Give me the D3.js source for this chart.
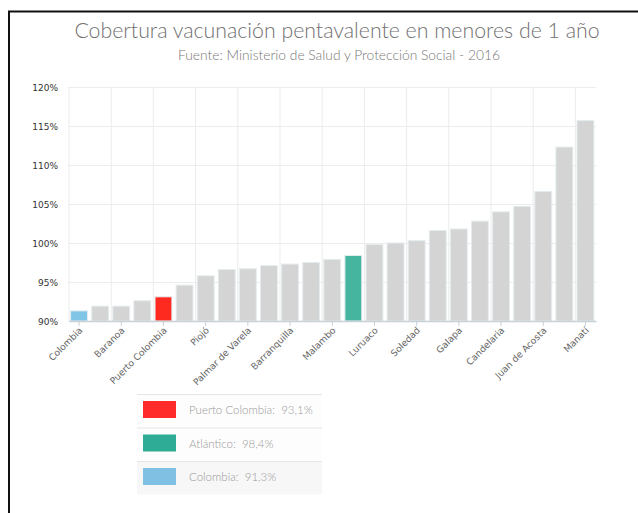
<!DOCTYPE html>
<html>
<head>
<meta charset="utf-8">
<script src="https://cdn.jsdelivr.net/npm/d3@7"></script>
<style>
  body { margin: 0; background: #fff; }
  svg { display: block; }
</style>
</head>
<body>
<script>
// data
const names = ["Colombia", "Campo de la Cruz", "Baranoa", "Polonuevo", "Puerto Colombia", "Ponedera",
  "Piojó", "Repelón", "Palmar de Varela", "Sabanagrande", "Barranquilla", "Sabanalarga", "Malambo",
  "Atlántico", "Luruaco", "Santa Lucía", "Soledad", "Santo Tomás", "Galapa", "Suan", "Candelaria",
  "Tubará", "Juan de Acosta", "Usiacurí", "Manatí"];
const values = [91.3, 91.9, 91.9, 92.6, 93.1, 94.6, 95.8, 96.6, 96.7, 97.1, 97.3, 97.5, 97.9,
  98.4, 99.8, 100.0, 100.3, 101.6, 101.8, 102.8, 104.0, 104.7, 106.6, 112.3, 115.7];
const yTicks = [90, 95, 100, 105, 110, 115, 120];
const highlight = { "Colombia": "#80c4e6", "Puerto Colombia": "#ff2a1f", "Atlántico": "#46b5a0" };
const legendItems = [
  { label: "Puerto Colombia:  93,1%", color: "#ff2b2b" },
  { label: "Atlántico:  98,4%", color: "#2fac95" },
  { label: "Colombia:  91,3%", color: "#80c0e2" }
];

const W = 638, H = 513;
const margin = { top: 87, right: 42, bottom: 192, left: 68.5 };

const svg = d3.select("body").append("svg")
  .attr("width", W)
  .attr("height", H);

// frame (top and left lines only)
svg.append("path")
  .attr("d", `M9,${H} L9,11.5 L${W},11.5`)
  .attr("fill", "none")
  .attr("stroke", "#111")
  .attr("stroke-width", 2);

// titles
svg.append("text")
  .attr("x", 337).attr("y", 38)
  .attr("text-anchor", "middle")
  .attr("font-family", "Lato")
  .attr("font-weight", 300)
  .attr("font-size", 21.3)
  .attr("fill", "#707070")
  .text("Cobertura vacunación pentavalente en menores de 1 año");

svg.append("text")
  .attr("x", 339).attr("y", 60)
  .attr("text-anchor", "middle")
  .attr("font-family", "Lato")
  .attr("font-weight", 300)
  .attr("font-size", 13.8)
  .attr("fill", "#777")
  .text("Fuente: Ministerio de Salud y Protección Social - 2016");

const x = d3.scaleBand()
  .domain(names)
  .range([margin.left, W - margin.right])
  .paddingInner(0.2)
  .paddingOuter(0.1);

const y = d3.scaleLinear()
  .domain([90, 120])
  .range([H - margin.bottom, margin.top]);

const step = x.step();

// horizontal gridlines
svg.append("g")
  .selectAll("line")
  .data(yTicks)
  .join("line")
  .attr("x1", margin.left)
  .attr("x2", W - margin.right)
  .attr("y1", d => y(d) + 0.5)
  .attr("y2", d => y(d) + 0.5)
  .attr("stroke", "#ececec");

// vertical gridlines at every other category boundary
const shown = names.filter((d, i) => i % 2 === 0);
svg.append("g")
  .selectAll("line")
  .data(shown)
  .join("line")
  .attr("x1", d => x(d) - step * x.paddingOuter() + 0.5)
  .attr("x2", d => x(d) - step * x.paddingOuter() + 0.5)
  .attr("y1", margin.top)
  .attr("y2", H - margin.bottom)
  .attr("stroke", "#ececec");

// bars
svg.append("g")
  .selectAll("rect")
  .data(names)
  .join("rect")
  .attr("x", d => x(d))
  .attr("y", (d, i) => y(values[i]))
  .attr("width", x.bandwidth())
  .attr("height", (d, i) => y(90) - y(values[i]))
  .attr("fill", d => highlight[d] || "#d4d4d4")
  .attr("stroke", "#e4ecef")
  .attr("stroke-width", 1);

// y axis labels
svg.append("g")
  .selectAll("text")
  .data(yTicks)
  .join("text")
  .attr("x", 58)
  .attr("y", d => y(d) + 3.5)
  .attr("text-anchor", "end")
  .attr("font-family", "DejaVu Sans")
  .attr("font-size", 9)
  .attr("fill", "#333")
  .text(d => d + "%");

// x axis
const xAxis = svg.append("g")
  .attr("transform", `translate(0,${H - margin.bottom})`)
  .call(d3.axisBottom(x).tickValues(shown).tickSize(5).tickSizeOuter(0));
xAxis.select(".domain").attr("stroke", "#c8d0d8").attr("stroke-width", 1.5);
xAxis.selectAll(".tick line").attr("stroke", "#c8d0d8");
xAxis.selectAll(".tick text")
  .attr("font-family", "DejaVu Sans")
  .attr("font-size", 9.2)
  .attr("fill", "#666")
  .attr("text-anchor", "end")
  .attr("dy", null)
  .attr("y", 0)
  .attr("transform", "translate(4,10) rotate(-45)");

// legend
const lg = svg.append("g").attr("transform", "translate(137,394)");
const rowH = 33.5;
lg.selectAll("rect.bg")
  .data(legendItems)
  .join("rect")
  .attr("class", "bg")
  .attr("x", 0)
  .attr("y", (d, i) => i * rowH)
  .attr("width", 185)
  .attr("height", rowH)
  .attr("fill", (d, i) => i === 2 ? "#f7f7f7" : "#fdfdfd");
lg.selectAll("line")
  .data(legendItems)
  .join("line")
  .attr("x1", 0).attr("x2", 185)
  .attr("y1", (d, i) => i * rowH + 0.5)
  .attr("y2", (d, i) => i * rowH + 0.5)
  .attr("stroke", "#e6e6e6");
lg.selectAll("rect.sw")
  .data(legendItems)
  .join("rect")
  .attr("class", "sw")
  .attr("x", 6)
  .attr("y", (d, i) => i * rowH + 7)
  .attr("width", 33)
  .attr("height", 17)
  .attr("fill", d => d.color);
lg.selectAll("text")
  .data(legendItems)
  .join("text")
  .attr("x", 52)
  .attr("y", (d, i) => i * rowH + 20)
  .attr("font-family", "Lato")
  .attr("font-weight", 300)
  .attr("font-size", 11.5)
  .attr("fill", "#999")
  .attr("xml:space", "preserve")
  .style("white-space", "pre")
  .text(d => d.label);
</script>
</body>
</html>
